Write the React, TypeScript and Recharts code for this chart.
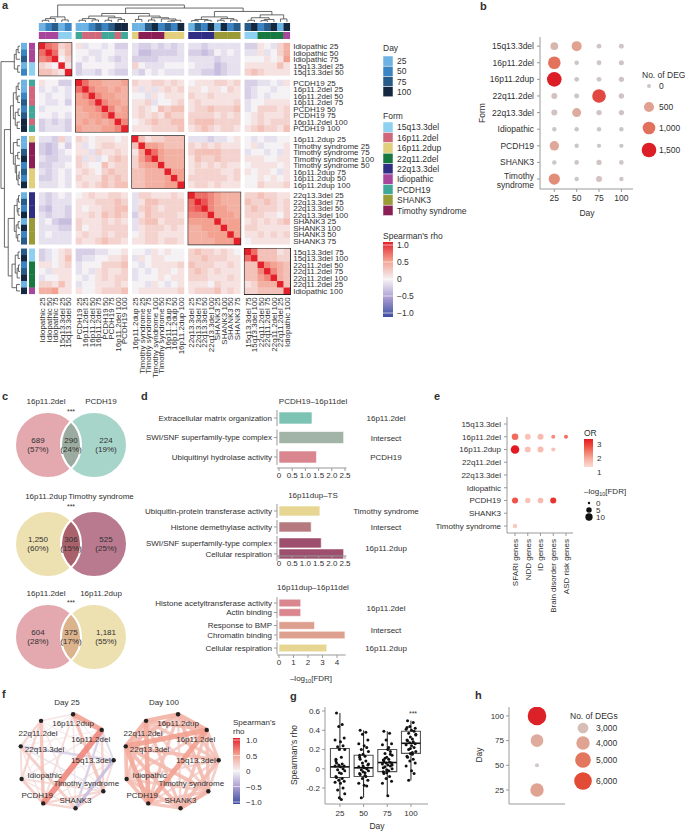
import React from 'react';
import { ScatterChart, Scatter, XAxis, YAxis, ReferenceArea, ReferenceLine } from 'recharts';

const FONT = '"Liberation Sans", Arial, Helvetica, sans-serif';
const INK = '#303030';
const AXIS = '#9a9a9a';

// ---------- colour helpers ----------
const hex = (c: string) => [1, 3, 5].map((k) => parseInt(c.slice(k, k + 2), 16));
const mix = (a: string, b: string, t: number) => {
  const A = hex(a);
  const B = hex(b);
  return 'rgb(' + A.map((v, k) => Math.round(v + (B[k] - v) * t)).join(',') + ')';
};
const ramp = (stops: [number, string][]) => (v: number) => {
  if (v <= stops[0][0]) return stops[0][1];
  for (let k = 1; k < stops.length; k++) {
    if (v <= stops[k][0]) {
      const [a, ca] = stops[k - 1];
      const [b, cb] = stops[k];
      return mix(ca, cb, (v - a) / (b - a));
    }
  }
  return stops[stops.length - 1][1];
};
const rhoColor = ramp([[-1, '#3c4fa2'], [-0.5, '#a99bd0'], [0, '#f5f2f5'], [0.5, '#f3a190'], [1, '#e4202a']]);

// ---------- shared legend categories ----------
const days = [25, 50, 75, 100];
const dayColors = ['#6cb3e3', '#3b84c4', '#275b88', '#142840'];
const forms = ['15q13.3del', '16p11.2del', '16p11.2dup', '22q11.2del', '22q13.3del', 'Idiopathic', 'PCDH19', 'SHANK3', 'Timothy syndrome'];
const formColors = ['#8dd0ef', '#d0677b', '#e1cf7c', '#17793f', '#302d85', '#a8469b', '#40a898', '#9a9a37', '#8b1f55'];

// ---------- a: sample correlation heatmap ----------
const hmLabels = [
  'Idiopathic 25', 'Idiopathic 50', 'Idiopathic 75', '15q13.3del 25', '15q13.3del 50',
  'PCDH19 25', '16p11.2del 25', '16p11.2del 50', '16p11.2del 75', 'PCDH19 50', 'PCDH19 75', '16p11.2del 100', 'PCDH19 100',
  '16p11.2dup 25', 'Timothy syndrome 25', 'Timothy syndrome 75', 'Timothy syndrome 100', 'Timothy syndrome 50', '16p11.2dup 75', '16p11.2dup 50', '16p11.2dup 100',
  '22q13.3del 25', '22q13.3del 75', '22q13.3del 50', '22q13.3del 100', 'SHANK3 25', 'SHANK3 100', 'SHANK3 50', 'SHANK3 75',
  '15q13.3del 75', '15q13.3del 100', '22q11.2del 50', '22q11.2del 75', '22q11.2del 100', '22q11.2del 25', 'Idiopathic 100',
];
const hmGroupSizes = [5, 8, 8, 8, 7];
// lower triangle of rho, one char per cell: 0-9 = +0.0..+0.9, a-d = -0.1..-0.4, X = 1.0
const hmRows = [
  'X',
  '7X',
  '67X',
  '210X',
  '3321X',
  '100bb X',
  'a0a0a 7X',
  '0a00a 56X',
  '0aa0b 556X',
  'a0000 4556X',
  '00a0a 44556X',
  'babab 454545X',
  'baaab 5444556X',
  'aab2a 21011101 X',
  'bcb0b 1a012211 3X',
  'bcba0 11a21121 15X',
  'abbaa 2a1a0232 257X',
  'bbaa0 21003122 2455X',
  'aba0a 12102322 33444X',
  'bba0a 21113232 334445X',
  'aaa0a 12123233 3344455X',
  'aba0a 01211221 a2211121 X',
  'abaaa 11122232 a1332222 7X',
  'bcaab 10112233 a2321222 78X',
  'abaab 11213232 b1322221 666X',
  'a0bcc 21112121 a2331222 5555X',
  'aaabb 20112222 a1222121 44555X',
  'a0aaa 12112122 01221111 444555X',
  'aaaaa 21123221 11221221 4444555X',
  'ba012 bbbaa001 00a10100 23221210 X',
  'ba013 baa00112 a1011000 22322211 7X',
  '11012 a0002223 0a011112 32221121 33X',
  '0a111 a0a12112 a0a01101 23212111 336X',
  'a0011 0a012122 a0001011 22211121 3356X',
  '22131 a0011121 00a10a01 11102111 12444X',
  '44511 10012223 01111112 12223121 223333X',
];
type Tree = number | [number, Tree, Tree];
const hmTree: Tree = [1,
  [0.3, [0.2, [0.1, 0, 1], 2], [0.12, 3, 4]],
  [0.82,
    [0.5,
      [0.35, [0.2, [0.1, 5, 6], [0.12, 7, 8]], [0.25, [0.1, 9, 10], [0.15, 11, 12]]],
      [0.35, [0.15, 13, 14], [0.25, [0.12, 15, 16], [0.18, 17, [0.1, [0.05, 18, 19], 20]]]]],
    [0.62,
      [0.3, [0.15, [0.08, 21, 22], [0.1, 23, 24]], [0.2, [0.1, 25, 26], [0.12, 27, 28]]],
      [0.42, [0.25, [0.1, 29, 30], [0.15, [0.08, 31, 32], 33]], [0.18, 34, 35]]]]];

// ---------- b: DEGs per form and day ----------
const bDegs = [
  [180, 480, 8, 13],
  [980, 5, 10, 15],
  [1500, 8, 10, 24],
  [53, 13, 1250, 24],
  [53, 330, 26, 24],
  [2, 3, 2, 3],
  [390, 2, 1, 1],
  [3, 5, 19, 5],
  [700, 2, 53, 2],
];
const bLegend = [0, 500, 1000, 1500];

// ---------- c: venn diagrams ----------
const vennSets = [['16p11.2del', 'PCDH19'], ['16p11.2dup', 'Timothy syndrome'], ['16p11.2del', '16p11.2dup']];
const vennCounts = [[689, 290, 224], [1250, 306, 525], [604, 375, 1181]];
const vennPcts = [[57, 24, 19], [60, 15, 25], [28, 17, 55]];
const vennColors = [['#e3a9ae', '#9bab9f', '#a8d5ca'], ['#ede0b1', '#a9626c', '#b97a8f'], ['#e3a9ae', '#dbb38c', '#ede0b1']];

// ---------- d: GO enrichment bars ----------
const dTitles = ['PCDH19–16p11del', '16p11dup–TS', '16p11dup–16p11del'];
const d1Terms = ['Extracellular matrix organization', 'SWI/SNF superfamily-type complex', 'Ubiquitinyl hydrolase activity'];
const d1Values = [1.25, 2.45, 1.42];
const d1Groups = [0, 1, 2];
const d1Names = ['16p11.2del', 'Intersect', 'PCDH19'];
const d1Colors = ['#7dc3b3', '#a2b3a7', '#d9868f'];
const d2Terms = ['Ubiquitin-protein transferase activity', 'Histone demethylase activity', 'SWI/SNF superfamily-type complex', 'Cellular respiration'];
const d2Values = [1.55, 1.22, 1.6, 2.45];
const d2Groups = [0, 1, 2, 2];
const d2Names = ['Timothy syndrome', 'Intersect', '16p11.2dup'];
const d2Colors = ['#e6d691', '#b57a7f', '#9e4f6d', '#9e4f6d'];
const d3Terms = ['Histone acetyltransferase activity', 'Actin binding', 'Response to BMP', 'Chromatin binding', 'Cellular respiration'];
const d3Values = [1.5, 1.5, 2.45, 4.55, 3.3];
const d3Groups = [0, 0, 1, 1, 2];
const d3Names = ['16p11.2del', 'Intersect', '16p11.2dup'];
const d3Colors = ['#d9868f', '#d9868f', '#dea08e', '#dea08e', '#e6d691'];

// ---------- e: risk gene enrichment ----------
const eSets = ['SFARI genes', 'NDD genes', 'ID genes', 'Brain disorder genes', 'ASD risk genes'];
const eOR = [
  [null, null, null, null, null],
  [2.6, 1.7, 1.8, 2.3, 2.6],
  [3.3, 1.7, 1.8, 1.7, null],
  [null, null, null, null, null],
  [null, null, null, null, null],
  [null, null, null, null, null],
  [2.8, 1.7, 1.8, 3.1, null],
  [null, null, null, null, null],
  [1.6, null, null, null, null],
];
const eFDR = [
  [null, null, null, null, null],
  [8, 6, 6.5, 2.2, 2],
  [14, 6.5, 6.5, 2.5, null],
  [null, null, null, null, null],
  [null, null, null, null, null],
  [null, null, null, null, null],
  [6.5, 5, 5.5, 6.5, null],
  [null, null, null, null, null],
  [3, null, null, null, null],
];
const eFdrLegend = [0, 5, 10];

// ---------- f: form-to-form networks ----------
const fNodes = ['16p11.2dup', '16p11.2del', '15q13.3del', 'Timothy syndrome', 'SHANK3', 'PCDH19', 'Idiopathic', '22q13.3del', '22q11.2del'];
// pairs in order 0-1, 0-2, ..., 7-8
const fRho25 = [
  0.5, 0.05, 0.3, 0.1, 0.15, 0.05, -0.05, 0.1,
  -0.15, 0.2, -0.2, 0.6, 0.1, 0.05, 0.0,
  0.15, -0.3, 0.1, -0.05, -0.2, 0.05,
  0.2, 0.2, 0.15, -0.1, 0.05,
  0.2, 0.1, 0.25, 0.1,
  0.25, 0.1, 0.3,
  0.15, 0.2,
  0.2,
];
const fRho100 = [
  0.4, 0.3, 0.35, 0.2, 0.3, 0.2, 0.35, 0.4,
  0.3, 0.3, 0.3, 0.5, 0.25, 0.5, 0.35,
  0.25, 0.35, 0.2, 0.2, 0.35, 0.3,
  0.4, 0.3, 0.25, 0.35, 0.25,
  0.3, 0.3, 0.35, 0.3,
  0.35, 0.45, 0.45,
  0.35, 0.3,
  0.4,
];

// ---------- g: rho distribution per day ----------
const gDays = [25, 50, 75, 100];
const gQ1 = [-0.09, -0.08, -0.03, 0.16];
const gMed = [0.02, 0.01, 0.065, 0.265];
const gQ3 = [0.21, 0.14, 0.2, 0.39];
const gLo = [-0.32, -0.3, -0.28, -0.12];
const gHi = [0.58, 0.4, 0.39, 0.5];
const gVals = [
  [0.58, 0.46, 0.44, 0.32, 0.3, 0.28, 0.24, 0.23, 0.2, 0.2, 0.12, 0.1, 0.06, 0.05, 0.04, 0.03, 0.03, 0.02,
    0.0, -0.01, -0.02, -0.04, -0.05, -0.08, -0.09, -0.1, -0.12, -0.13, -0.14, -0.15, -0.2, -0.22, -0.26, -0.3, -0.32, 0.08],
  [0.4, 0.38, 0.36, 0.3, 0.26, 0.24, 0.22, 0.2, 0.18, 0.15, 0.13, 0.12, 0.1, 0.08, 0.06, 0.04, 0.02, 0.01,
    0.0, -0.01, -0.02, -0.03, -0.04, -0.05, -0.06, -0.08, -0.1, -0.12, -0.15, -0.17, -0.18, -0.3, 0.05, 0.03, -0.07, 0.14],
  [0.39, 0.37, 0.3, 0.26, 0.25, 0.2, 0.18, 0.16, 0.14, 0.12, 0.1, 0.09, 0.08, 0.07, 0.06, 0.06, 0.05, 0.04,
    0.03, 0.02, 0.0, -0.01, -0.02, -0.03, -0.05, -0.08, -0.1, -0.13, -0.15, -0.28, 0.15, 0.11, 0.04, -0.04, 0.22, 0.01],
  [0.5, 0.48, 0.44, 0.42, 0.41, 0.4, 0.39, 0.37, 0.35, 0.33, 0.31, 0.3, 0.29, 0.28, 0.27, 0.26, 0.25, 0.24,
    0.22, 0.2, 0.18, 0.16, 0.15, 0.13, 0.12, 0.1, 0.08, 0.06, 0.03, -0.02, -0.05, -0.12, 0.36, 0.21, 0.17, 0.43],
];
const gJitter = [-0.12, 0.08, -0.04, 0.15, -0.17, 0.02, 0.11, -0.08, 0.17, -0.02, 0.05, -0.14];

// ---------- h: DEGs per day ----------
const hDays = [25, 50, 75, 100];
const hDegs = [4000, 1500, 3700, 6550];
const hLegend = [3000, 4000, 5000, 6000];

// ---------- scales for sizes and colours ----------
const bRadius = (v: number) => 2 + 0.137 * Math.sqrt(v);
const bColor = ramp([[0, '#cdc6c6'], [60, '#d3c2bf'], [200, '#d8b4aa'], [500, '#e2a190'], [1000, '#e3705a'], [1500, '#dc1f26']]);
const eRadius = (f: number) => Math.sqrt(1.4 + 1.2 * f);
const orColor = ramp([[1, '#fff4f1'], [2, '#f7ad9c'], [3, '#ee3d2f'], [3.3, '#e41a22']]);
const hRadius = (v: number) => Math.sqrt(Math.max(4, 44.9 + (v - 4000) * 0.01625));
const hColor = ramp([[1500, '#d2caca'], [3000, '#d8bdb6'], [4000, '#e0a392'], [5000, '#e3765f'], [6000, '#e24b35'], [6550, '#dc2128']]);

// ---------- tick renderers ----------
const lookup = (ticks: number[], labels: string[]) => (v: number) => labels[ticks.findIndex((t) => Math.abs(t - v) < 1e-6)] ?? '';
const dec1 = (v: number) => (Math.abs(v) < 1e-9 ? '0' : v.toFixed(1));
const bottomTick = (fmt: (v: number) => string, size = 8) => (p: any) => (
  <text x={p.x} y={p.y} dy={size * 0.75} textAnchor="middle" fontSize={size} fill={INK} fontFamily={FONT}>{fmt(p.payload.value)}</text>
);
const leftTick = (fmt: (v: number) => string, size = 8) => (p: any) => (
  <text x={p.x} y={p.y} dy={size * 0.35} textAnchor="end" fontSize={size} fill={INK} fontFamily={FONT}>{fmt(p.payload.value)}</text>
);
const rightTick = (fmt: (v: number) => string, size = 8) => (p: any) => (
  <text x={p.x} y={p.y} dy={size * 0.35} textAnchor="start" fontSize={size} fill={INK} fontFamily={FONT}>{fmt(p.payload.value)}</text>
);
const rotTick = (fmt: (v: number) => string, size = 8) => (p: any) => (
  <text transform={`translate(${p.x},${p.y}) rotate(-90)`} dy={size * 0.35} textAnchor="end" fontSize={size} fill={INK} fontFamily={FONT}>{fmt(p.payload.value)}</text>
);
const noShape = () => <g />;
const M0 = { top: 0, right: 0, bottom: 0, left: 0 };

// ---------- heatmap geometry ----------
const HS = 6.5;
const HG = 4.3 / HS;
const hmStarts = hmGroupSizes.map((_, g) => hmGroupSizes.slice(0, g).reduce((s, n) => s + n, 0));
const hmGroupOf = (i: number) => hmStarts.filter((s) => s <= i).length - 1;
const hmPos = (i: number) => i + hmGroupOf(i) * HG;
const HSPAN = hmLabels.length + (hmGroupSizes.length - 1) * HG;
const HX0 = -39 / HS;
const HY0 = -38 / HS;
const HW = (HSPAN - HX0) * HS;
const HH = (HSPAN - HY0) * HS;
const hmTicks = hmLabels.map((_, i) => hmPos(i) + 0.5);
const decode = (c: string) => (c === 'X' ? 1 : c >= '0' && c <= '9' ? Number(c) / 10 : -(c.charCodeAt(0) - 96) / 10);
const hmTri = hmRows.map((r) => r.replace(/ /g, ''));
const hmCells: any[] = [];
hmLabels.forEach((_, i) =>
  hmLabels.forEach((__, j) => hmCells.push({ x: hmTicks[j], y: hmTicks[i], v: decode(i >= j ? hmTri[i][j] : hmTri[j][i]) })),
);
const hmMeta = hmLabels.map((l) => {
  const k = l.lastIndexOf(' ');
  return { form: l.slice(0, k), day: Number(l.slice(k + 1)) };
});
const dayCol = (d: number) => dayColors[days.indexOf(d)];
const formCol = (f: string) => formColors[forms.indexOf(f)];
const annTopDay = hmMeta.map((m, j) => ({ x: hmTicks[j], y: (27 - 43) / HS, c: dayCol(m.day) }));
const annTopForm = hmMeta.map((m, j) => ({ x: hmTicks[j], y: (35.5 - 43) / HS, c: formCol(m.form) }));
const annLeftDay = hmMeta.map((m, i) => ({ x: (24 - 39) / HS, y: hmTicks[i], c: dayCol(m.day) }));
const annLeftForm = hmMeta.map((m, i) => ({ x: (32 - 39) / HS, y: hmTicks[i], c: formCol(m.form) }));
const dendroSegs: number[][] = [];
const walk = (t: Tree): { p: number; h: number } => {
  if (typeof t === 'number') return { p: hmTicks[t], h: 0 };
  const [h, a, b] = t;
  const A = walk(a);
  const B = walk(b);
  dendroSegs.push([A.p, A.h, A.p, h], [B.p, B.h, B.p, h], [A.p, h, B.p, h]);
  return { p: (A.p + B.p) / 2, h };
};
walk(hmTree);
const topY = (h: number) => (22 - 17 * h - 43) / HS;
const leftX = (h: number) => (20 - 19 * h - 39) / HS;
const rectShape = (w: number, h: number) => (p: any) => (
  <rect x={p.cx - w / 2} y={p.cy - h / 2} width={w} height={h} fill={p.payload.c} />
);

function Heatmap() {
  return (
    <div style={{ position: 'absolute', left: 0, top: 0 }}>
      <ScatterChart width={HW + 92} height={5 + HH + 90} margin={{ top: 5, right: 12, bottom: 0, left: 0 }}>
        <XAxis type="number" dataKey="x" domain={[HX0, HSPAN]} allowDataOverflow ticks={hmTicks} interval={0} height={90}
          axisLine={false} tickLine={false} tickSize={0} tickMargin={3} tick={rotTick(lookup(hmTicks, hmLabels), 8)} />
        <YAxis type="number" dataKey="y" domain={[HY0, HSPAN]} reversed allowDataOverflow orientation="right" ticks={hmTicks}
          interval={0} width={80} axisLine={false} tickLine={false} tickSize={0} tickMargin={3} tick={rightTick(lookup(hmTicks, hmLabels), 8)} />
        <Scatter data={hmCells} isAnimationActive={false}
          shape={(p: any) => <rect x={p.cx - HS / 2 - 0.15} y={p.cy - HS / 2 - 0.15} width={HS + 0.3} height={HS + 0.3} fill={rhoColor(p.payload.v)} />} />
        <Scatter data={annTopDay} isAnimationActive={false} shape={rectShape(HS + 0.3, 8)} />
        <Scatter data={annTopForm} isAnimationActive={false} shape={rectShape(HS + 0.3, 7)} />
        <Scatter data={annLeftDay} isAnimationActive={false} shape={rectShape(6, HS + 0.3)} />
        <Scatter data={annLeftForm} isAnimationActive={false} shape={rectShape(6, HS + 0.3)} />
        {hmStarts.map((s, g) => (
          <ReferenceArea key={'blk' + g} x1={hmPos(s)} x2={hmPos(s + hmGroupSizes[g] - 1) + 1} y1={hmPos(s)} y2={hmPos(s + hmGroupSizes[g] - 1) + 1}
            fill="none" stroke="#1c1c1c" strokeWidth={1.5} ifOverflow="visible" />
        ))}
        {dendroSegs.map((s, k) => (
          <ReferenceLine key={'t' + k} segment={[{ x: s[0], y: topY(s[1]) }, { x: s[2], y: topY(s[3]) }]} stroke="#444" strokeWidth={0.8} ifOverflow="visible" />
        ))}
        {dendroSegs.map((s, k) => (
          <ReferenceLine key={'l' + k} segment={[{ x: leftX(s[1]), y: s[0] }, { x: leftX(s[3]), y: s[2] }]} stroke="#444" strokeWidth={0.8} ifOverflow="visible" />
        ))}
      </ScatterChart>
    </div>
  );
}

const bPoints: any[] = [];
bDegs.forEach((row, r) => row.forEach((v, c) => bPoints.push({ x: days[c], y: r, v })));
const bTick = (p: any) => {
  const words = (forms[Math.round(p.payload.value)] ?? '').split(' ');
  return (
    <text x={p.x} y={p.y} textAnchor="end" fontSize={8.5} fill={INK} fontFamily={FONT}>
      {words.map((w, k) => (
        <tspan key={k} x={p.x} dy={k === 0 ? (words.length > 1 ? -0.5 : 3) : 9}>{w}</tspan>
      ))}
    </text>
  );
};

function PanelB() {
  return (
    <div style={{ position: 'absolute', left: 470, top: 0 }}>
      <ScatterChart width={163} height={219} margin={{ top: 37, right: 0, bottom: 0, left: 0 }}>
        <XAxis type="number" dataKey="x" domain={[9, 113]} allowDataOverflow ticks={days} interval={0} height={30}
          tickSize={3} tickMargin={3} stroke={AXIS} tick={bottomTick((v) => String(v), 8.5)} />
        <YAxis type="number" dataKey="y" domain={[-0.55, 8.6]} reversed allowDataOverflow ticks={forms.map((_, k) => k)} interval={0}
          width={70} tickSize={3} tickMargin={3} stroke={AXIS} tick={bTick} />
        <Scatter data={bPoints} isAnimationActive={false}
          shape={(p: any) => <circle cx={p.cx} cy={p.cy} r={bRadius(p.payload.v)} fill={bColor(p.payload.v)} />} />
      </ScatterChart>
    </div>
  );
}

const vennCy = [444.5, 543.5, 637];
const VR = 33;
const VD = 46;
function Venn({ k }: { k: number }) {
  const [nl, ni, nr] = vennCounts[k];
  const [pl, pi, pr] = vennPcts[k];
  const [cl, ci, cr] = vennColors[k];
  const sets = [{ x: 0, y: 0, n: nl, pct: pl, c: cl, dx: -10 }, { x: 1, y: 0, n: nr, pct: pr, c: cr, dx: 12 }];
  const mid = [{ x: 0.5, y: 0, n: ni, pct: pi, c: ci, dx: 0 }];
  const label = (p: any) => (
    <text x={p.cx + p.payload.dx} y={p.cy - 2.5} textAnchor="middle" fontSize={8} fill={INK} fontFamily={FONT}>
      <tspan x={p.cx + p.payload.dx}>{p.payload.n.toLocaleString('en-US')}</tspan>
      <tspan x={p.cx + p.payload.dx} dy={9}>({p.payload.pct}%)</tspan>
    </text>
  );
  const hc = Math.sqrt(VR * VR - (VD / 2) * (VD / 2));
  return (
    <div style={{ position: 'absolute', left: 0, top: vennCy[k] - 40 }}>
      <ScatterChart width={135} height={80} margin={M0}>
        <XAxis type="number" dataKey="x" domain={[-48 / VD, 87 / VD]} allowDataOverflow hide />
        <YAxis type="number" dataKey="y" domain={[-40, 40]} allowDataOverflow hide />
        <Scatter data={sets} isAnimationActive={false}
          shape={(p: any) => <circle cx={p.cx} cy={p.cy} r={VR} fill={p.payload.c} stroke="#fff" strokeWidth={2} />} />
        <Scatter data={mid} isAnimationActive={false}
          shape={(p: any) => (
            <path d={`M${p.cx},${p.cy - hc} A${VR},${VR} 0 0 1 ${p.cx},${p.cy + hc} A${VR},${VR} 0 0 1 ${p.cx},${p.cy - hc} Z`}
              fill={p.payload.c} stroke="#fff" strokeWidth={2} />
          )} />
        <Scatter data={[...sets, ...mid]} isAnimationActive={false} shape={label} />
      </ScatterChart>
    </div>
  );
}

const dSpecs = [
  { terms: d1Terms, values: d1Values, groups: d1Groups, names: d1Names, colors: d1Colors },
  { terms: d2Terms, values: d2Values, groups: d2Groups, names: d2Names, colors: d2Colors },
  { terms: d3Terms, values: d3Values, groups: d3Groups, names: d3Names, colors: d3Colors },
];
const dLayouts = [
  { plotTop: 408, plotBottom: 468, row0: 418, unit: 19.5, gap: 0, xpx: 26.4, xmax: 2.56, ticks: [0, 0.5, 1, 1.5, 2, 2.5], barH: 12, titleY: 404 },
  { plotTop: 503, plotBottom: 556, row0: 511, unit: 11, gap: 0.45, xpx: 26.4, xmax: 2.56, ticks: [0, 0.5, 1, 1.5, 2, 2.5], barH: 10, titleY: 498 },
  { plotTop: 596, plotBottom: 655, row0: 603, unit: 9.5, gap: 0.37, xpx: 14.5, xmax: 4.6, ticks: [0, 1, 2, 3, 4], barH: 7.6, titleY: 590 },
];
const dPos = (k: number) => dSpecs[k].groups.map((g, i) => i + g * dLayouts[k].gap);

function DChart({ k }: { k: number }) {
  const spec = dSpecs[k];
  const lay = dLayouts[k];
  const pos = dPos(k);
  const x0 = -2 / lay.xpx;
  const plotW = (lay.xmax - x0) * lay.xpx;
  const yDom = [(lay.plotTop - lay.row0) / lay.unit, (lay.plotBottom - lay.row0) / lay.unit];
  const hh = lay.barH / 2 / lay.unit;
  const pad = (lay.barH / 2 + 2) / lay.unit;
  const ends = spec.values.map((v, i) => ({ x: v, y: pos[i] }));
  return (
    <div style={{ position: 'absolute', left: 137, top: lay.plotTop - 2 }}>
      <ScatterChart width={140 + plotW + 10} height={2 + lay.plotBottom - lay.plotTop + 16} margin={{ top: 2, right: 10, bottom: 0, left: 0 }}>
        <XAxis type="number" dataKey="x" domain={[x0, lay.xmax]} allowDataOverflow ticks={lay.ticks} interval={0} height={16}
          tickSize={3} tickMargin={1} stroke={AXIS} tick={bottomTick(k === 2 ? (v) => String(v) : dec1, 8)} />
        <YAxis type="number" dataKey="y" domain={yDom} reversed allowDataOverflow ticks={pos} interval={0} width={140}
          axisLine={false} tickSize={3} tickMargin={2} stroke={AXIS} tick={leftTick(lookup(pos, spec.terms), 8)} />
        {spec.names.map((_, g) => {
          const ps = pos.filter((__, i) => spec.groups[i] === g);
          return (
            <ReferenceLine key={'s' + g} segment={[{ x: x0, y: Math.min(...ps) - pad }, { x: x0, y: Math.max(...ps) + pad }]}
              stroke={AXIS} strokeWidth={1} ifOverflow="visible" />
          );
        })}
        {spec.values.map((v, i) => (
          <ReferenceArea key={'b' + i} x1={0} x2={v} y1={pos[i] - hh} y2={pos[i] + hh} fill={spec.colors[i]} fillOpacity={1}
            stroke="#ffffff" strokeWidth={0.6} ifOverflow="visible" />
        ))}
        <Scatter data={ends} isAnimationActive={false} shape={noShape} />
      </ScatterChart>
    </div>
  );
}

const ePoints: any[] = [];
eOR.forEach((row, r) => row.forEach((or, c) => { if (or != null) ePoints.push({ x: c, y: r, or, f: eFDR[r][c] }); }));
function PanelE() {
  return (
    <div style={{ position: 'absolute', left: 407, top: 400 }}>
      <ScatterChart width={166} height={17 + 116 + 90} margin={{ top: 17, right: 0, bottom: 0, left: 0 }}>
        <XAxis type="number" dataKey="x" domain={[-0.63, 4.55]} allowDataOverflow ticks={eSets.map((_, k) => k)} interval={0} height={90}
          tickSize={3} tickMargin={3} stroke={AXIS} tick={rotTick((v) => eSets[Math.round(v)], 8)} />
        <YAxis type="number" dataKey="y" domain={[-0.55, 8.55]} reversed allowDataOverflow ticks={forms.map((_, k) => k)} interval={0}
          width={100} tickSize={3} tickMargin={3} stroke={AXIS} tick={leftTick((v) => forms[Math.round(v)], 8)} />
        <Scatter data={ePoints} isAnimationActive={false}
          shape={(p: any) => <circle cx={p.cx} cy={p.cy} r={eRadius(p.payload.f)} fill={orColor(p.payload.or)} />} />
      </ScatterChart>
    </div>
  );
}

const fPairs: number[][] = [];
fNodes.forEach((_, a) => fNodes.forEach((__, b) => { if (b > a) fPairs.push([a, b]); }));
const FR = 47.7;
const fNodePts = fNodes.map((name, k) => {
  const ang = ((8.5 + 40 * k) * Math.PI) / 180;
  return { x: FR * Math.sin(ang), y: -FR * Math.cos(ang), k, name };
});
const fLabelPlace: [number, number, string][] = [
  [0, 12, 'middle'], [-11, 12, 'middle'], [-3, 3, 'end'], [-17, -5, 'middle'], [0, -5, 'middle'],
  [-6, -5, 'middle'], [6, -1, 'start'], [4, 6, 'start'], [-3, 15, 'middle'],
];
function Network({ rho, left }: { rho: number[]; left: number }) {
  const edges = fPairs.map(([a, b], k) => ({ a, b, r: rho[k] })).sort((u, v) => Math.abs(u.r) - Math.abs(v.r));
  return (
    <div style={{ position: 'absolute', left, top: 698.8 }}>
      <ScatterChart width={130} height={125} margin={M0}>
        <XAxis type="number" dataKey="x" domain={[-65, 65]} allowDataOverflow hide />
        <YAxis type="number" dataKey="y" domain={[-62.5, 62.5]} reversed allowDataOverflow hide />
        {edges.map((e, k) => (
          <Scatter key={k} data={[fNodePts[e.a], fNodePts[e.b]]} isAnimationActive={false} shape={noShape}
            line={{ stroke: rhoColor(e.r), strokeWidth: 0.6 + Math.abs(e.r) * 9, strokeOpacity: 0.9 }} />
        ))}
        <Scatter data={fNodePts} isAnimationActive={false}
          shape={(p: any) => {
            const [dx, dy, anchor] = fLabelPlace[p.payload.k];
            return (
              <g>
                <circle cx={p.cx} cy={p.cy} r={2.2} fill="#222" />
                <text x={p.cx + dx} y={p.cy + dy} textAnchor={anchor as any} fontSize={8} fill={INK} fontFamily={FONT}>{p.payload.name}</text>
              </g>
            );
          }} />
      </ScatterChart>
    </div>
  );
}

const gPoints: any[] = [];
gVals.forEach((vals, i) => vals.forEach((v, n) => gPoints.push({ x: i + gJitter[n % gJitter.length] * 1.2, y: v })));
function PanelG() {
  return (
    <div style={{ position: 'absolute', left: 295, top: 700 }}>
      <ScatterChart width={133} height={122} margin={{ top: 7, right: 0, bottom: 0, left: 0 }}>
        <XAxis type="number" dataKey="x" domain={[-0.63, 3.72]} allowDataOverflow ticks={[0, 1, 2, 3]} interval={0} height={18}
          tickSize={3} tickMargin={3} stroke={AXIS} tick={bottomTick((v) => String(gDays[Math.round(v)]), 8)} />
        <YAxis type="number" dataKey="y" domain={[-0.366, 0.642]} allowDataOverflow ticks={[-0.2, 0, 0.2, 0.4, 0.6]} interval={0}
          width={30} tickSize={3} tickMargin={2} stroke={AXIS} tick={leftTick(dec1, 8)} />
        {gDays.map((_, i) => (
          <ReferenceLine key={'wl' + i} segment={[{ x: i, y: gLo[i] }, { x: i, y: gQ1[i] }]} stroke="#222" strokeWidth={1} ifOverflow="visible" />
        ))}
        {gDays.map((_, i) => (
          <ReferenceLine key={'wh' + i} segment={[{ x: i, y: gQ3[i] }, { x: i, y: gHi[i] }]} stroke="#222" strokeWidth={1} ifOverflow="visible" />
        ))}
        {gDays.map((_, i) => (
          <ReferenceArea key={'bx' + i} x1={i - 0.4} x2={i + 0.4} y1={gQ1[i]} y2={gQ3[i]} fill="none" stroke="#555" strokeWidth={1.1} ifOverflow="visible" />
        ))}
        {gDays.map((_, i) => (
          <ReferenceLine key={'md' + i} segment={[{ x: i - 0.4, y: gMed[i] }, { x: i + 0.4, y: gMed[i] }]} stroke="#111" strokeWidth={1.6} ifOverflow="visible" />
        ))}
        <Scatter data={gPoints} isAnimationActive={false} shape={(p: any) => <circle cx={p.cx} cy={p.cy} r={1.5} fill="#111" />} />
      </ScatterChart>
    </div>
  );
}

const hPoints = hDays.map((d, k) => ({ x: 1, y: d, v: hDegs[k] }));
function PanelH() {
  return (
    <div style={{ position: 'absolute', left: 479, top: 700 }}>
      <ScatterChart width={86} height={106} margin={{ top: 7, right: 0, bottom: 0, left: 0 }}>
        <XAxis type="number" dataKey="x" domain={[0, 2]} allowDataOverflow height={2} tick={false} tickLine={false} stroke={AXIS} />
        <YAxis type="number" dataKey="y" domain={[10.8, 109]} allowDataOverflow ticks={hDays} interval={0} width={30}
          tickSize={3} tickMargin={2} stroke={AXIS} tick={leftTick((v) => String(v), 8)} />
        <Scatter data={hPoints} isAnimationActive={false}
          shape={(p: any) => <circle cx={p.cx} cy={p.cy} r={hRadius(p.payload.v)} fill={hColor(p.payload.v)} />} />
      </ScatterChart>
    </div>
  );
}

const T = ({ x, y, s = 8, a = 'start', w, r, children }: any) => (
  <text x={x} y={y} fontSize={s} textAnchor={a} fontWeight={w} fill={INK} fontFamily={FONT}
    transform={r ? `rotate(${r} ${x} ${y})` : undefined}>{children}</text>
);
const NegLog = ({ x, y, a = 'start' }: any) => (
  <text x={x} y={y} fontSize={8} textAnchor={a} fill={INK} fontFamily={FONT}>
    –log<tspan fontSize={5.5} dy={2}>10</tspan><tspan dy={-2}>[FDR]</tspan>
  </text>
);
const rhoTicks = [1, 0.5, 0, -0.5, -1];
const rhoTxt = (v: number) => (v === 0 ? '0' : (v < 0 ? '−' : '') + Math.abs(v).toFixed(1));

function Overlay() {
  return (
    <svg width={685} height={832} style={{ position: 'absolute', left: 0, top: 0, pointerEvents: 'none' }}>
      <defs>
        <linearGradient id="rhoBar" x1="0" y1="0" x2="0" y2="1">
          {rhoTicks.map((v, k) => <stop key={k} offset={k / 4} stopColor={rhoColor(v)} />)}
        </linearGradient>
        <linearGradient id="orBar" x1="0" y1="0" x2="0" y2="1">
          {[3.36, 2.86, 2.36, 1.86, 1.36].map((v, k) => <stop key={k} offset={k / 4} stopColor={orColor(v)} />)}
        </linearGradient>
      </defs>
      {/* panel letters */}
      {[['a', 2, 9], ['b', 480, 10], ['c', 2, 400], ['d', 141, 400], ['e', 434, 400], ['f', 2, 698], ['g', 290, 700], ['h', 475, 699]].map(([l, x, y]) => (
        <T key={l as string} x={x} y={y} s={11} w="bold">{l}</T>
      ))}

      {/* a legends */}
      <T x={383} y={51} s={8.5}>Day</T>
      {days.map((d, k) => (
        <g key={'dl' + d}>
          <rect x={383} y={56 + k * 10.2} width={10} height={10.2} fill={dayColors[k]} stroke="#fff" strokeWidth={0.5} />
          <T x={397} y={64.2 + k * 10.2} s={8.5}>{d}</T>
        </g>
      ))}
      <T x={383} y={119} s={8.5}>Form</T>
      {forms.map((f, k) => (
        <g key={'fl' + f}>
          <rect x={383} y={122 + k * 10.4} width={10} height={10.4} fill={formColors[k]} stroke="#fff" strokeWidth={0.5} />
          <T x={397} y={130.3 + k * 10.4} s={8.5}>{f}</T>
        </g>
      ))}
      <T x={383} y={239} s={8.5}>Spearman's rho</T>
      <rect x={383} y={242} width={10} height={75} fill="url(#rhoBar)" />
      {rhoTicks.map((v) => (
        <g key={'rl' + v}>
          <line x1={383} x2={393} y1={245 + ((1 - v) / 2) * 68} y2={245 + ((1 - v) / 2) * 68} stroke="#fff" strokeWidth={0.6} />
          <T x={397} y={248 + ((1 - v) / 2) * 68} s={8.5}>{rhoTxt(v)}</T>
        </g>
      ))}

      {/* b titles and legend */}
      <T x={485} y={113} s={8.5} a="middle" r={-90}>Form</T>
      <T x={587} y={216} s={8.5} a="middle">Day</T>
      <T x={642} y={78} s={8.5}>No. of DEGs</T>
      {bLegend.map((v, k) => (
        <g key={'bl' + v}>
          <circle cx={649} cy={[86, 107, 128, 150][k]} r={bRadius(v)} fill={bColor(v)} />
          <T x={659} y={[86, 107, 128, 150][k] + 3} s={8.5}>{v.toLocaleString('en-US')}</T>
        </g>
      ))}

      {/* c titles */}
      {vennSets.map((pair, k) => (
        <g key={'vt' + k}>
          <T x={46} y={[404, 499, 596][k]} a="middle">{pair[0]}</T>
          <T x={101} y={[404, 499, 596][k]} a="middle">{pair[1]}</T>
          <T x={71} y={[414, 509, 605][k]} a="middle" s={7}>***</T>
        </g>
      ))}

      {/* d titles, group labels, axis title */}
      {dTitles.map((t, k) => <T key={'dt' + k} x={313} y={dLayouts[k].titleY} a="middle">{t}</T>)}
      {dSpecs.map((spec, k) => {
        const pos = dPos(k);
        return spec.names.map((n, g) => {
          const ps = pos.filter((_, i) => spec.groups[i] === g);
          const y = dLayouts[k].row0 + dLayouts[k].unit * (ps.reduce((s, v) => s + v, 0) / ps.length) + 3;
          return <T key={'dg' + k + g} x={386} y={y} a="middle">{n}</T>;
        });
      })}
      <NegLog x={311} y={681} a="middle" />

      {/* e legend */}
      <T x={584} y={436} s={8.5}>OR</T>
      <rect x={584} y={439} width={9} height={28} fill="url(#orBar)" />
      {[3, 2, 1].map((v, k) => <T key={'or' + v} x={597} y={447 + k * 14}>{v}</T>)}
      <NegLog x={584} y={494} />
      {eFdrLegend.map((v, k) => (
        <g key={'ef' + v}>
          <circle cx={589} cy={503 + k * 7} r={eRadius(v)} fill="#111" />
          <T x={596} y={506 + k * 7}>{v}</T>
        </g>
      ))}

      {/* f titles and legend */}
      <T x={67} y={705} a="middle">Day 25</T>
      <T x={164} y={705} a="middle">Day 100</T>
      <T x={233} y={725}>Spearman's</T>
      <T x={233} y={734}>rho</T>
      <rect x={233} y={738} width={7} height={66} fill="url(#rhoBar)" />
      {rhoTicks.map((v) => (
        <g key={'fr' + v}>
          <line x1={233} x2={240} y1={740 + ((1 - v) / 2) * 62} y2={740 + ((1 - v) / 2) * 62} stroke="#fff" strokeWidth={0.6} />
          <T x={246} y={743 + ((1 - v) / 2) * 62}>{rhoTxt(v)}</T>
        </g>
      ))}

      {/* g labels */}
      <T x={297} y={755} a="middle" s={8.5} r={-90}>Spearman's rho</T>
      <T x={377} y={829} a="middle" s={8.5}>Day</T>
      <T x={413} y={716} a="middle" s={7}>***</T>

      {/* h labels and legend */}
      <T x={482} y={755} a="middle" s={8.5} r={-90}>Day</T>
      <T x={570} y={719} s={8.5}>No. of DEGs</T>
      {hLegend.map((v, k) => (
        <g key={'hl' + v}>
          <circle cx={583} cy={[728, 743, 760, 781][k]} r={hRadius(v)} fill={hColor(v)} />
          <T x={596} y={[728, 743, 760, 781][k] + 3} s={8.5}>{v.toLocaleString('en-US')}</T>
        </g>
      ))}
    </svg>
  );
}

export default function App() {
  return (
    <div style={{ position: 'absolute', left: 0, top: 0, width: 685, height: 832, background: '#fff', overflow: 'hidden', fontFamily: FONT }}>
      <Heatmap />
      <PanelB />
      <Venn k={0} />
      <Venn k={1} />
      <Venn k={2} />
      <DChart k={0} />
      <DChart k={1} />
      <DChart k={2} />
      <PanelE />
      <Network rho={fRho25} left={1.3} />
      <Network rho={fRho100} left={106.3} />
      <PanelG />
      <PanelH />
      <Overlay />
    </div>
  );
}
